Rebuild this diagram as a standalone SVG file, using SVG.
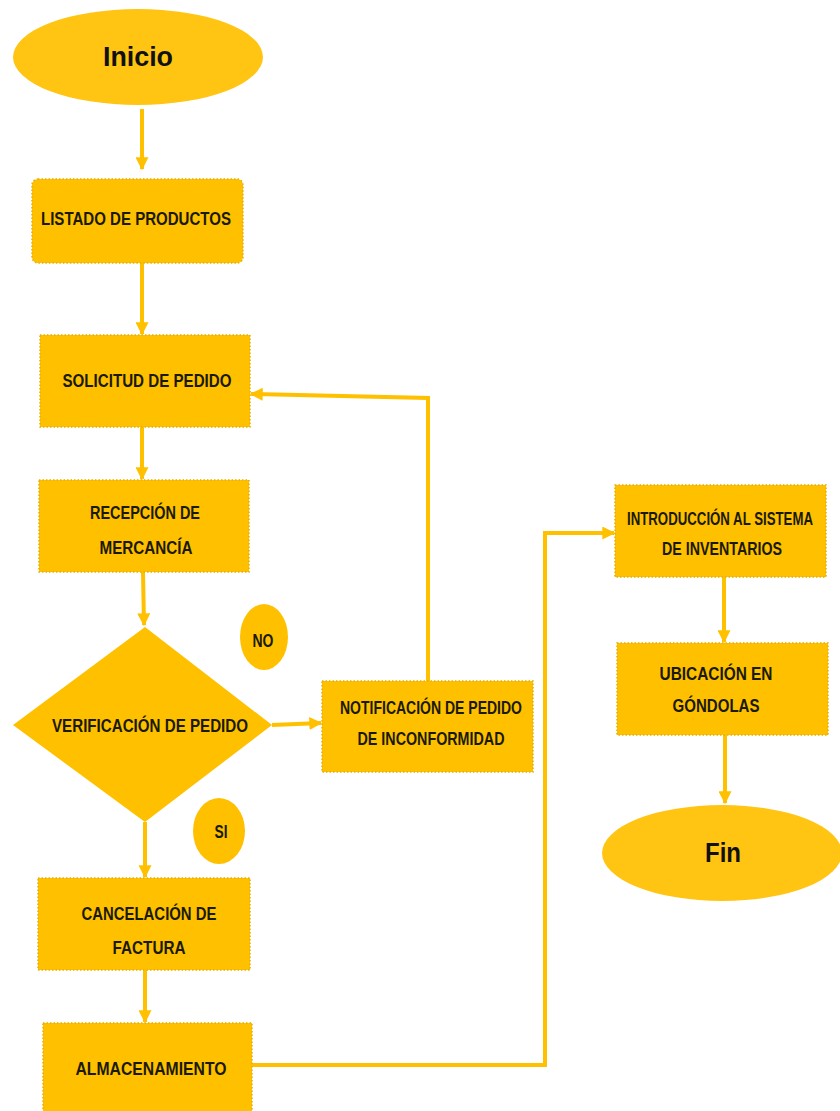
<svg xmlns="http://www.w3.org/2000/svg" width="840" height="1111" viewBox="0 0 840 1111">
<defs>
<marker id="ah" viewBox="0 0 10 10" refX="9" refY="5" markerWidth="13" markerHeight="13" markerUnits="userSpaceOnUse" orient="auto">
<path d="M0,0 L10,5 L0,10 z" fill="#FFC000"/>
</marker>
<style>
.box{fill:#FFC000;stroke:#E8AE00;stroke-width:1.5;stroke-dasharray:1.5 2}
.ell{fill:#FFC512}
.dec{fill:#FFC000}
.conn{fill:none;stroke:#FFC000;stroke-width:4;marker-end:url(#ah)}
.t{font-family:"Liberation Sans",Arial,sans-serif;font-weight:bold;font-size:18px;fill:#1a1a00;text-anchor:middle}
.tl{font-family:"Liberation Sans",Arial,sans-serif;font-weight:bold;font-size:27px;fill:#111;text-anchor:middle}
</style>
</defs>
<rect width="840" height="1111" fill="#ffffff"/>
<g id="connectors">
<path class="conn" d="M142,109 L142,169"/>
<path class="conn" d="M142,263 L142,334"/>
<path class="conn" d="M142,427 L142,479"/>
<path class="conn" d="M143,572 L144,625"/>
<path class="conn" d="M272,725 L321,723"/>
<path class="conn" d="M428,681 L428,398 L251,394"/>
<path class="conn" d="M145,822 L145,877"/>
<path class="conn" d="M145,970 L145,1022"/>
<path class="conn" d="M252,1065 L545,1065 L545,533 L614,533"/>
<path class="conn" d="M724,577 L724,642"/>
<path class="conn" d="M725,735 L725,803"/>
</g>
<g id="inicio">
<ellipse class="ell" cx="138" cy="57" rx="125" ry="48"/>
<text class="tl" x="138" y="66" textLength="70" lengthAdjust="spacingAndGlyphs">Inicio</text>
</g>
<g id="listado">
<rect class="box" x="32" y="179" width="211" height="84" rx="6"/>
<text class="t" x="136" y="225" textLength="190" lengthAdjust="spacingAndGlyphs">LISTADO DE PRODUCTOS</text>
</g>
<g id="solicitud">
<rect class="box" x="40" y="335" width="210" height="92"/>
<text class="t" x="147" y="387" textLength="169" lengthAdjust="spacingAndGlyphs">SOLICITUD DE PEDIDO</text>
</g>
<g id="recepcion">
<rect class="box" x="39" y="480" width="210" height="92"/>
<text class="t" x="145" y="519" textLength="110" lengthAdjust="spacingAndGlyphs">RECEPCIÓN DE</text>
<text class="t" x="146" y="554" textLength="93" lengthAdjust="spacingAndGlyphs">MERCANCÍA</text>
</g>
<g id="verificacion">
<polygon class="dec" points="145,627 272,725 145,822 13,725"/>
<text class="t" x="150" y="732" textLength="196" lengthAdjust="spacingAndGlyphs">VERIFICACIÓN DE PEDIDO</text>
</g>
<g id="no">
<ellipse class="dec" cx="264" cy="637" rx="24" ry="33"/>
<text class="t" x="263" y="647" font-size="15" textLength="21" lengthAdjust="spacingAndGlyphs">NO</text>
</g>
<g id="si">
<ellipse class="dec" cx="219" cy="831" rx="26" ry="33"/>
<text class="t" x="221" y="838" font-size="15" textLength="13" lengthAdjust="spacingAndGlyphs">SI</text>
</g>
<g id="notificacion">
<rect class="box" x="322" y="681" width="211" height="91"/>
<text class="t" x="431" y="714" textLength="182" lengthAdjust="spacingAndGlyphs">NOTIFICACIÓN DE PEDIDO</text>
<text class="t" x="431" y="745" textLength="147" lengthAdjust="spacingAndGlyphs">DE INCONFORMIDAD</text>
</g>
<g id="cancelacion">
<rect class="box" x="38" y="878" width="212" height="92"/>
<text class="t" x="149" y="920" textLength="135" lengthAdjust="spacingAndGlyphs">CANCELACIÓN DE</text>
<text class="t" x="149" y="954" textLength="73" lengthAdjust="spacingAndGlyphs">FACTURA</text>
</g>
<g id="almacenamiento">
<rect class="box" x="43" y="1023" width="209" height="100"/>
<text class="t" x="151" y="1075" textLength="151" lengthAdjust="spacingAndGlyphs">ALMACENAMIENTO</text>
</g>
<g id="introduccion">
<rect class="box" x="615" y="485" width="211" height="92"/>
<text class="t" x="720" y="525" font-size="17" textLength="186" lengthAdjust="spacingAndGlyphs">INTRODUCCIÓN AL SISTEMA</text>
<text class="t" x="722" y="555" textLength="120" lengthAdjust="spacingAndGlyphs">DE INVENTARIOS</text>
</g>
<g id="ubicacion">
<rect class="box" x="617" y="643" width="211" height="92"/>
<text class="t" x="716" y="680" textLength="113" lengthAdjust="spacingAndGlyphs">UBICACIÓN EN</text>
<text class="t" x="716" y="712" textLength="87" lengthAdjust="spacingAndGlyphs">GÓNDOLAS</text>
</g>
<g id="fin">
<ellipse class="ell" cx="722" cy="853" rx="120" ry="48"/>
<text class="tl" x="723" y="862" textLength="36" lengthAdjust="spacingAndGlyphs">Fin</text>
</g>
</svg>
